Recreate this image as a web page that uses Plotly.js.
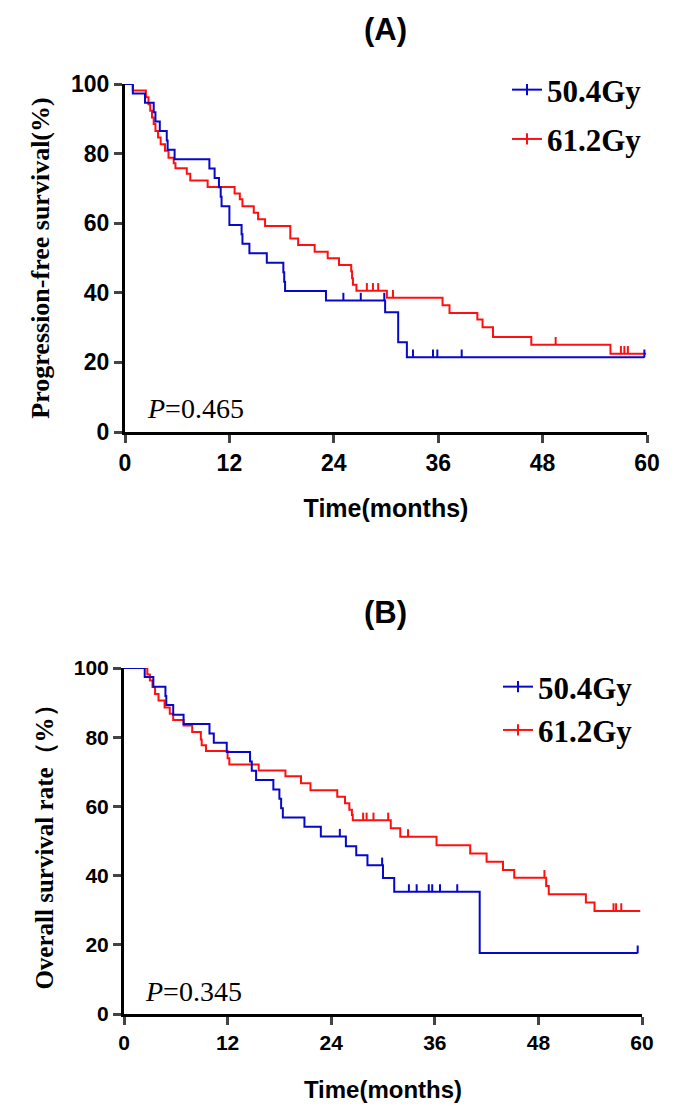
<!DOCTYPE html>
<html>
<head>
<meta charset="utf-8">
<script src="https://cdn.plot.ly/plotly-3.0.1.min.js"></script>
<style>body{margin:0;background:#fff}</style>
</head>
<body>
<div id="km" style="width:685px;height:1116px"></div>
<script>
// (A) progression-free survival
var pfsTime50 = [0, 0.9, 2.3, 3.3, 3.5, 4.0, 4.8, 4.9, 5.7, 9.7, 10.3, 10.8, 11.0, 11.1, 12.0, 13.4, 13.5, 14.3, 16.3, 18.2, 18.3, 18.4, 23.1, 29.9, 31.4, 32.4, 59.7];
var pfsSurv50 = [100, 97.3, 94.6, 91.9, 89.2, 86.5, 83.8, 81.1, 78.4, 75.7, 73.0, 70.3, 67.6, 64.9, 59.5, 56.8, 54.1, 51.4, 48.6, 45.9, 43.2, 40.5, 37.8, 34.4, 25.8, 21.5, 21.5];
var pfsCens50 = [25.1, 27.1, 29.8, 33.1, 35.4, 35.9, 38.7, 59.7];

var pfsTime61 = [0, 0.9, 2.4, 2.7, 2.9, 3.1, 3.3, 3.5, 3.8, 4.1, 4.6, 5.0, 5.6, 5.8, 7.1, 7.5, 9.5, 12.6, 13.2, 13.5, 14.8, 15.3, 16.1, 19.0, 19.9, 21.8, 23.3, 24.6, 26.0, 26.1, 26.2, 26.6, 30.1, 36.5, 37.3, 40.5, 41.1, 42.3, 46.7, 55.8, 59.9];
var pfsSurv61 = [100, 98.1, 96.2, 94.2, 92.3, 90.4, 88.5, 86.5, 84.6, 82.7, 80.8, 78.8, 77.2, 75.8, 74.2, 72.3, 70.4, 68.5, 66.9, 64.9, 63.0, 61.1, 59.2, 55.6, 53.7, 51.8, 49.9, 48.0, 46.2, 44.2, 42.3, 40.6, 38.6, 36.4, 34.2, 32.3, 30.1, 27.3, 25.1, 22.5, 22.5];
var pfsCens61 = [27.8, 28.5, 29.1, 30.8, 49.5, 57.0, 57.4, 57.8];

// (B) overall survival
var osTime50 = [0, 2.4, 3.4, 4.8, 4.9, 5.7, 6.9, 9.9, 10.4, 11.9, 14.6, 14.8, 15.3, 17.3, 18.0, 18.2, 18.4, 20.9, 22.8, 25.7, 26.9, 28.2, 30.0, 31.3, 41.2, 59.5];
var osSurv50 = [100, 97.4, 94.6, 91.9, 89.3, 86.5, 83.8, 81.1, 78.4, 75.7, 73.0, 70.3, 67.6, 64.9, 62.2, 59.5, 56.8, 54.1, 51.3, 48.5, 45.9, 43.0, 39.3, 35.3, 17.6, 17.6];
var osCens50 = [25.0, 29.9, 33.0, 33.9, 35.3, 35.7, 36.6, 38.6, 59.5];

var osTime61 = [0, 2.7, 3.0, 3.3, 3.6, 4.0, 4.7, 5.3, 5.7, 6.9, 7.9, 8.9, 9.0, 9.5, 12.0, 12.2, 15.6, 18.7, 20.5, 21.6, 24.7, 25.6, 26.1, 26.4, 26.5, 30.9, 32.0, 36.2, 40.1, 42.0, 43.9, 45.2, 48.9, 49.2, 53.5, 54.5, 59.8];
var osSurv61 = [100, 98.1, 96.4, 94.5, 92.5, 90.6, 88.6, 86.8, 85.0, 83.4, 81.5, 79.3, 77.7, 76.0, 73.9, 72.1, 70.4, 68.7, 66.7, 64.7, 62.8, 60.9, 59.0, 57.5, 56.0, 53.7, 51.2, 48.8, 46.4, 44.0, 41.6, 39.4, 37.0, 34.6, 32.2, 29.8, 29.8];
var osCens61 = [27.7, 28.1, 28.9, 30.6, 32.9, 48.7, 56.7, 57.0, 57.6];

var groups = ['50.4Gy', '61.2Gy'];
var xTicks = [0, 12, 24, 36, 48, 60];
var yTicks = [0, 20, 40, 60, 80, 100];

var BLUE = '#0808c8', RED = '#ff1010';
var sans = 'Arial, "Liberation Sans", sans-serif';
var serif = '"Times New Roman", "Liberation Serif", serif';

// survival level of a step curve at time t
function levelAt(ts, ss, t) {
  var v = ss[0];
  for (var i = 0; i < ts.length; i++) if (ts[i] <= t) v = ss[i];
  return v;
}

function curve(ts, ss, color, xa, ya) {
  return {x: ts, y: ss, xaxis: xa, yaxis: ya, mode: 'lines', showlegend: false,
    line: {shape: 'hv', width: 2, color: color}, cliponaxis: false, hoverinfo: 'skip'};
}
function censor(cs, ts, ss, color, xa, ya) {
  return {x: cs, y: cs.map(function (c) { return levelAt(ts, ss, c); }), xaxis: xa, yaxis: ya,
    mode: 'markers', showlegend: false, marker: {size: 1, color: color}, cliponaxis: false,
    error_y: {type: 'constant', symmetric: false, value: 2.2, valueminus: 0, width: 0, thickness: 2, color: color}};
}
function legendItem(name, color, lg) {
  return {x: [null], y: [null], name: name, legend: lg, legendgroup: lg + name, mode: 'lines+markers',
    line: {width: 2, color: color}, marker: {symbol: 'line-ns', size: 8, line: {width: 2, color: color}}};
}

var data = [
  curve(pfsTime61, pfsSurv61, RED, 'x', 'y'),
  curve(pfsTime50, pfsSurv50, BLUE, 'x', 'y'),
  censor(pfsCens61, pfsTime61, pfsSurv61, RED, 'x', 'y'),
  censor(pfsCens50, pfsTime50, pfsSurv50, BLUE, 'x', 'y'),
  curve(osTime61, osSurv61, RED, 'x2', 'y2'),
  curve(osTime50, osSurv50, BLUE, 'x2', 'y2'),
  censor(osCens61, osTime61, osSurv61, RED, 'x2', 'y2'),
  censor(osCens50, osTime50, osSurv50, BLUE, 'x2', 'y2'),
  legendItem(groups[0], BLUE, 'legend'),
  legendItem(groups[1], RED, 'legend'),
  legendItem(groups[0], BLUE, 'legend2'),
  legendItem(groups[1], RED, 'legend2')
];

function xAxis(dom, anchor, size, tsize, gap) {
  return {domain: dom, anchor: anchor, range: [0, 60], tickvals: xTicks, showgrid: false, zeroline: false,
    showline: true, linewidth: 3, linecolor: '#000', ticks: 'outside', ticklen: 8, tickwidth: 3,
    tickfont: {family: sans, size: size, weight: 'bold', color: '#000'},
    title: {text: 'Time(months)', font: {family: sans, size: tsize, weight: 'bold', color: '#000'}, standoff: gap}};
}
function yAxis(dom, anchor, size, title, tsize) {
  return {domain: dom, anchor: anchor, range: [0, 100], tickvals: yTicks, showgrid: false, zeroline: false,
    showline: true, linewidth: 3, linecolor: '#000', ticks: 'outside', ticklen: 8, tickwidth: 3,
    tickfont: {family: sans, size: size, weight: 'bold', color: '#000'},
    title: {text: title, font: {family: serif, size: tsize, weight: 'bold', color: '#000'}, standoff: 14}};
}

var legFont = {family: serif, size: 31, weight: 'bold', color: '#000'};

var layout = {
  width: 685, height: 1116,
  margin: {l: 0, r: 0, t: 0, b: 0},
  paper_bgcolor: '#fff', plot_bgcolor: '#fff',
  xaxis: xAxis([125 / 685, 647 / 685], 'y', 23, 25, 25),
  yaxis: yAxis([(1116 - 432) / 1116, (1116 - 84) / 1116], 'x', 23, 'Progression-free survival(%)', 26),
  xaxis2: xAxis([124 / 685, 642 / 685], 'y2', 21, 24, 28),
  yaxis2: yAxis([(1116 - 1014) / 1116, (1116 - 668) / 1116], 'x2', 21, 'Overall survival rate（%）', 25),
  legend: {x: 507 / 685, y: (1116 - 63) / 1116, xanchor: 'left', yanchor: 'top', font: legFont,
    tracegroupgap: 6, bgcolor: 'rgba(0,0,0,0)', itemwidth: 30},
  legend2: {x: 498 / 685, y: (1116 - 660) / 1116, xanchor: 'left', yanchor: 'top', font: legFont,
    tracegroupgap: 0, bgcolor: 'rgba(0,0,0,0)', itemwidth: 30},
  annotations: [
    {text: '(A)', x: 385 / 685, y: (1116 - 30) / 1116, xref: 'paper', yref: 'paper', yanchor: 'middle',
      showarrow: false, font: {family: sans, size: 31, weight: 'bold', color: '#000'}},
    {text: '(B)', x: 385 / 685, y: (1116 - 612) / 1116, xref: 'paper', yref: 'paper', yanchor: 'middle',
      showarrow: false, font: {family: sans, size: 31, weight: 'bold', color: '#000'}},
    {text: '<i>P</i>=0.465', x: 145 / 685, y: (1116 - 408) / 1116, xref: 'paper', yref: 'paper', xanchor: 'left',
      yanchor: 'middle', showarrow: false, font: {family: serif, size: 28, color: '#000'}},
    {text: '<i>P</i>=0.345', x: 143 / 685, y: (1116 - 991) / 1116, xref: 'paper', yref: 'paper', xanchor: 'left',
      yanchor: 'middle', showarrow: false, font: {family: serif, size: 28, color: '#000'}}
  ]
};

Plotly.newPlot('km', data, layout, {displayModeBar: false, staticPlot: true});
</script>
</body>
</html>
